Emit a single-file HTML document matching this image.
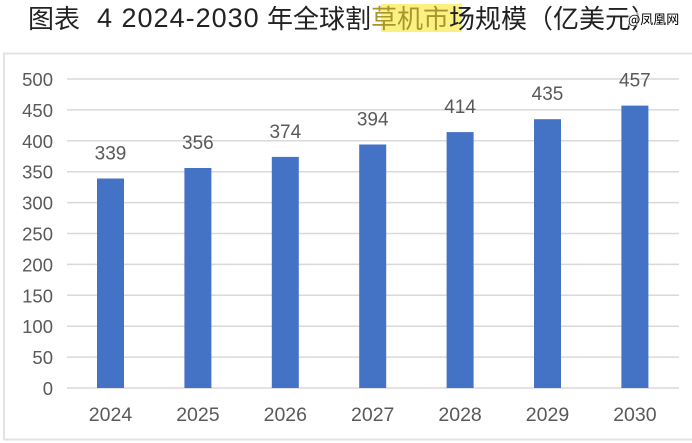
<!DOCTYPE html>
<html><head><meta charset="utf-8"><style>
html,body{margin:0;padding:0;background:#fff;}
body{width:692px;height:443px;position:relative;overflow:hidden;font-family:"Liberation Sans","Noto Sans CJK SC",sans-serif;}
.t{position:absolute;white-space:nowrap;color:#222;}
</style></head><body>
<div style="position:absolute;left:381px;top:4px;width:81px;height:28px;background:#fbf183;"></div>
<div class="t" style="left:28px;top:5px;font-size:26px;line-height:26px;font-family:'Noto Sans CJK SC',sans-serif;">图表</div>
<div class="t" style="left:97px;top:4px;font-size:27px;line-height:28px;letter-spacing:1px;">4 2024-2030</div>
<div class="t" style="left:267px;top:5px;font-size:26px;line-height:26px;font-family:'Noto Sans CJK SC',sans-serif;">年全球割<span style="color:#a8962a;">草机市</span>场规模（亿美元）</div>
<div class="t" style="left:628px;top:12px;font-size:13px;line-height:14px;color:#000;background:rgba(255,255,255,0.6);font-family:'Noto Sans CJK SC',sans-serif;">@凤凰网</div>
<svg width="692" height="443" style="position:absolute;left:0;top:0" xmlns="http://www.w3.org/2000/svg">
<rect x="4" y="53.5" width="700" height="386" fill="none" stroke="#e3e3e3" stroke-width="2"/>
<g stroke="#d9d9d9" stroke-width="1.5">
<line x1="67" x2="679" y1="79" y2="79"/>
<line x1="67" x2="679" y1="109.9" y2="109.9"/>
<line x1="67" x2="679" y1="140.8" y2="140.8"/>
<line x1="67" x2="679" y1="171.7" y2="171.7"/>
<line x1="67" x2="679" y1="202.6" y2="202.6"/>
<line x1="67" x2="679" y1="233.5" y2="233.5"/>
<line x1="67" x2="679" y1="264.4" y2="264.4"/>
<line x1="67" x2="679" y1="295.3" y2="295.3"/>
<line x1="67" x2="679" y1="326.2" y2="326.2"/>
<line x1="67" x2="679" y1="357.1" y2="357.1"/>
<line x1="67" x2="679" y1="388" y2="388"/>
</g>
<g font-family="Liberation Sans, sans-serif" font-size="18.5" fill="#595959" text-anchor="end">
<text x="53" y="86">500</text>
<text x="53" y="116.9">450</text>
<text x="53" y="147.8">400</text>
<text x="53" y="178.7">350</text>
<text x="53" y="209.6">300</text>
<text x="53" y="240.5">250</text>
<text x="53" y="271.4">200</text>
<text x="53" y="302.3">150</text>
<text x="53" y="333.2">100</text>
<text x="53" y="364.1">50</text>
<text x="53" y="395">0</text>
</g>
<g fill="#4472c4">
<rect x="97" y="178.5" width="27" height="209.5"/>
<rect x="184.4" y="168" width="27" height="220"/>
<rect x="271.8" y="156.9" width="27" height="231.1"/>
<rect x="359.2" y="144.5" width="27" height="243.5"/>
<rect x="446.6" y="132.1" width="27" height="255.9"/>
<rect x="534" y="119.2" width="27" height="268.8"/>
<rect x="621.4" y="105.6" width="27" height="282.4"/>
</g>
<g font-family="Liberation Sans, sans-serif" font-size="19" fill="#595959" text-anchor="middle">
<text x="110.5" y="159.5">339</text>
<text x="197.9" y="149">356</text>
<text x="285.3" y="137.9">374</text>
<text x="372.7" y="125.5">394</text>
<text x="460.1" y="113.1">414</text>
<text x="547.5" y="100.2">435</text>
<text x="634.9" y="86.6">457</text>
</g>
<g font-family="Liberation Sans, sans-serif" font-size="19.5" fill="#595959" text-anchor="middle">
<text x="110.5" y="421">2024</text>
<text x="197.9" y="421">2025</text>
<text x="285.3" y="421">2026</text>
<text x="372.7" y="421">2027</text>
<text x="460.1" y="421">2028</text>
<text x="547.5" y="421">2029</text>
<text x="634.9" y="421">2030</text>
</g>
</svg>
</body></html>
